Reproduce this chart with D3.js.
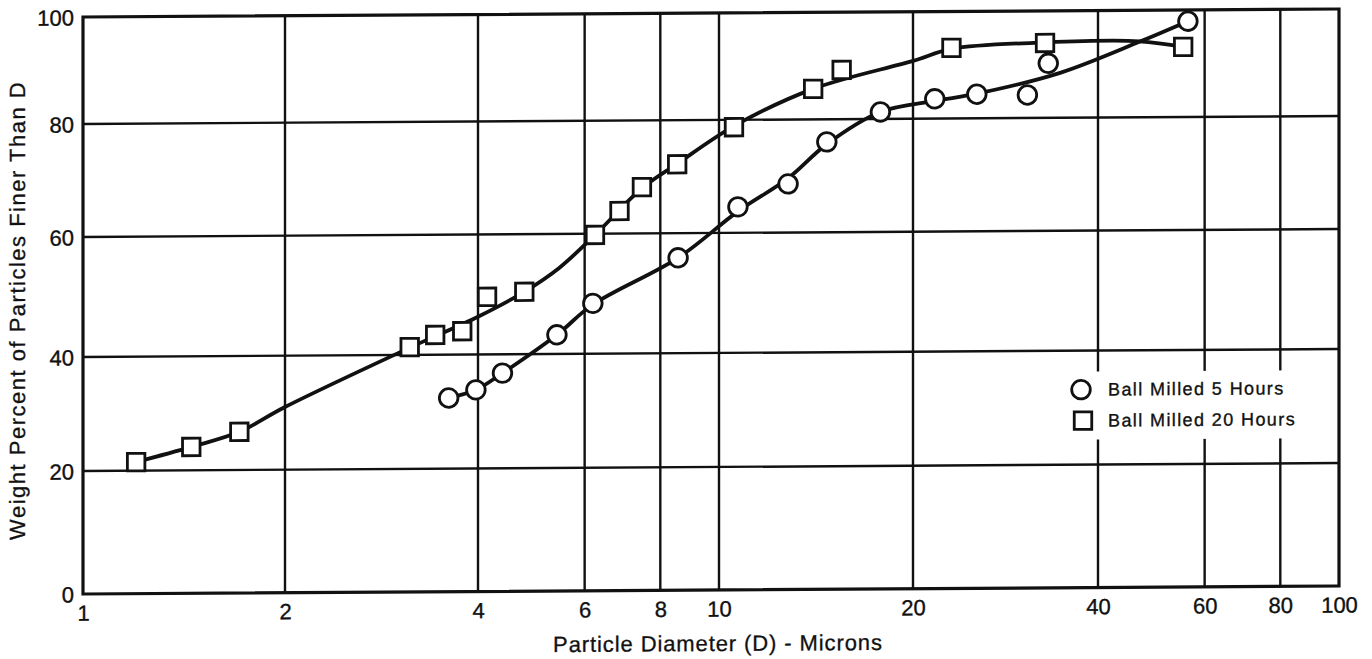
<!DOCTYPE html>
<html>
<head>
<meta charset="utf-8">
<script src="https://cdn.jsdelivr.net/npm/d3@7"></script>
<style>
  body { margin: 0; background: #fff; }
  svg { display: block; }
  text { font-family: "Liberation Sans", Arial, Helvetica, sans-serif; fill: #111; }
</style>
</head>
<body>
<svg id="chart" width="1372" height="659"></svg>
<script>
// Particle size distribution after ball milling (log diameter vs cumulative weight %)

const xTicks = [1, 2, 4, 6, 8, 10, 20, 40, 60, 80, 100];
const yTicks = [0, 20, 40, 60, 80, 100];

// Measured points, 5 hours of milling
const diam5h = [3.6, 3.97, 4.39, 5.4, 6.19, 8.56, 10.7, 12.8, 14.7, 17.8, 21.7, 25.4, 30.7, 33.2, 56.3];
const finer5h = [32.4, 33.8, 36.7, 43.2, 48.4, 55.9, 64.6, 68.6, 76.0, 81.3, 83.7, 84.5, 84.3, 90.2, 97.9];

// Measured points, 20 hours of milling
const diam20h = [1.2, 1.45, 1.71, 3.13, 3.43, 3.78, 4.14, 4.77, 6.24, 6.85, 7.46, 8.53, 10.55, 14.0, 15.5, 23.1, 32.8, 55.3];
const finer20h = [21.5, 24.1, 26.7, 41.3, 43.3, 43.9, 49.6, 50.4, 59.8, 64.0, 68.2, 72.2, 78.7, 85.7, 89.2, 93.2, 94.0, 93.1];

// Hand-faired smooth curves through each set
const curveDiam5h = [3.6, 3.97, 4.39, 5.4, 6.19, 8.56, 10.7, 12.8, 14.7, 17.8, 21.7, 25.4, 34.7, 46.8, 56.3];
const curveFiner5h = [32.4, 33.8, 36.7, 43.2, 48.2, 55.9, 63.8, 69.6, 75.6, 81.3, 83.3, 84.6, 88.4, 94.1, 97.9];
const curveDiam20h = [1.2, 1.45, 1.71, 2, 3.13, 4, 4.77, 5.44, 6.24, 7.46, 8.53, 10.55, 14, 20, 23.1, 32.8, 46.8, 55.3];
const curveFiner20h = [21.5, 24.1, 26.7, 31.0, 41.2, 46.3, 50.4, 54.3, 59.8, 68.0, 72.3, 78.9, 85.7, 90.8, 93.0, 94.1, 94.2, 93.1];

const seriesLabels = ["Ball Milled 5 Hours", "Ball Milled 20 Hours"];
const xTitle = "Particle Diameter (D) - Microns";
const yTitle = "Weight Percent of Particles Finer Than D";

// ---- layout ----
const plotLeft = 83, plotRight = 1339, plotTop = 17, plotBottom = 594;
const ink = "#111";

// log paper, calibrated on its printed rulings
const x = d3.scaleLog()
  .domain([1, 2, 4, 10, 20, 40, 100])
  .range([plotLeft, 285, 478, 719, 913, 1098, plotRight]);

const y = d3.scaleLinear()
  .domain([0, 20, 40, 60, 80, 100])
  .range([plotBottom, 471, 357, 237, 124, plotTop]);

const svg = d3.select("#chart");
svg.append("rect").attr("width", 1372).attr("height", 659).attr("fill", "#fff");

// the printed sheet sits slightly askew
const tilt = -Math.atan(8 / 1256) * 180 / Math.PI;
const g = svg.append("g")
  .attr("transform", `translate(${plotLeft},0) skewY(${tilt}) translate(${-plotLeft},0)`);

// grid
g.append("g").selectAll("line")
  .data(xTicks.slice(1, -1))
  .join("line")
  .attr("x1", d => x(d)).attr("x2", d => x(d))
  .attr("y1", plotTop).attr("y2", plotBottom)
  .attr("stroke", ink).attr("stroke-width", 2.4);

g.append("g").selectAll("line")
  .data(yTicks.slice(1, -1))
  .join("line")
  .attr("x1", plotLeft).attr("x2", plotRight)
  .attr("y1", d => y(d)).attr("y2", d => y(d))
  .attr("stroke", ink).attr("stroke-width", 2.4);

// frame
g.append("rect")
  .attr("x", plotLeft).attr("y", plotTop)
  .attr("width", plotRight - plotLeft).attr("height", plotBottom - plotTop)
  .attr("fill", "none").attr("stroke", ink).attr("stroke-width", 3.2);

// axes (labels only; the frame and grid carry the lines)
const xAxis = g.append("g")
  .attr("transform", `translate(0,${plotBottom})`)
  .call(d3.axisBottom(x).tickValues(xTicks).tickFormat(d3.format("d")).tickSize(0).tickPadding(11));
xAxis.select(".domain").remove();
xAxis.selectAll("text").attr("font-size", 22).attr("fill", ink)
  .attr("stroke", ink).attr("stroke-width", 0.35)
  .style("font-family", '"Liberation Sans", Arial, sans-serif');

const yAxis = g.append("g")
  .attr("transform", `translate(${plotLeft},0)`)
  .call(d3.axisLeft(y).tickValues(yTicks).tickFormat(d3.format("d")).tickSize(0).tickPadding(9));
yAxis.select(".domain").remove();
yAxis.selectAll("text").attr("font-size", 22).attr("dy", "0.36em").attr("fill", ink)
  .attr("stroke", ink).attr("stroke-width", 0.35)
  .style("font-family", '"Liberation Sans", Arial, sans-serif');

// titles
g.append("text")
  .attr("x", (plotLeft + plotRight) / 2 + 7).attr("y", 655)
  .attr("text-anchor", "middle")
  .attr("font-size", 22).attr("letter-spacing", 0.9)
  .attr("stroke", ink).attr("stroke-width", 0.3)
  .text(xTitle);

g.append("text")
  .attr("transform", "translate(25,310) rotate(-90)")
  .attr("text-anchor", "middle")
  .attr("font-size", 22).attr("letter-spacing", 1.5)
  .attr("stroke", ink).attr("stroke-width", 0.3)
  .text(yTitle);

// fitted curves
const line = d3.line()
  .x(d => x(d[0])).y(d => y(d[1]))
  .curve(d3.curveCatmullRom.alpha(0.5));

const fit5 = d3.zip(curveDiam5h, curveFiner5h);
const fit20 = d3.zip(curveDiam20h, curveFiner20h);

g.append("path").datum(fit20).attr("d", line)
  .attr("fill", "none").attr("stroke", ink).attr("stroke-width", 3.8)
  .attr("stroke-linejoin", "round").attr("stroke-linecap", "round");
g.append("path").datum(fit5).attr("d", line)
  .attr("fill", "none").attr("stroke", ink).attr("stroke-width", 3.8)
  .attr("stroke-linejoin", "round").attr("stroke-linecap", "round");

// markers
const r = 9.3, side = 17.5;
g.append("g").selectAll("rect")
  .data(d3.zip(diam20h, finer20h))
  .join("rect")
  .attr("x", d => x(d[0]) - side / 2).attr("y", d => y(d[1]) - side / 2)
  .attr("width", side).attr("height", side)
  .attr("fill", "#fff").attr("stroke", ink).attr("stroke-width", 2.8);

g.append("g").selectAll("circle")
  .data(d3.zip(diam5h, finer5h))
  .join("circle")
  .attr("cx", d => x(d[0])).attr("cy", d => y(d[1])).attr("r", r)
  .attr("fill", "#fff").attr("stroke", ink).attr("stroke-width", 2.8);

// legend, on a white patch that interrupts the grid
const legend = g.append("g").attr("transform", "translate(1081,396)");
legend.append("rect")
  .attr("x", -24).attr("y", -18).attr("width", 248).attr("height", 68)
  .attr("fill", "#fff");
legend.append("circle").attr("cx", 0).attr("cy", 0).attr("r", r)
  .attr("fill", "#fff").attr("stroke", ink).attr("stroke-width", 2.8);
legend.append("rect").attr("x", 2 - side / 2).attr("y", 31 - side / 2)
  .attr("width", side).attr("height", side)
  .attr("fill", "#fff").attr("stroke", ink).attr("stroke-width", 2.8);
legend.selectAll("text.lbl")
  .data(seriesLabels)
  .join("text")
  .attr("class", "lbl")
  .attr("x", 27).attr("y", (d, i) => 6 + i * 31)
  .attr("font-size", 18).attr("letter-spacing", 1.4)
  .attr("stroke", ink).attr("stroke-width", 0.35)
  .text(d => d);
</script>
</body>
</html>
